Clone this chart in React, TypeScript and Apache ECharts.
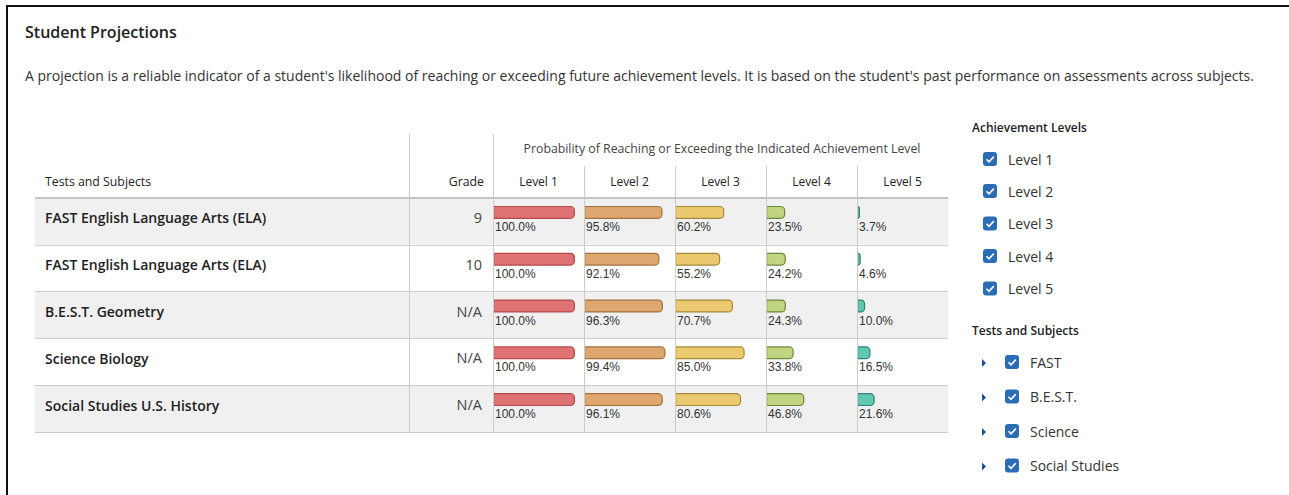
import React, { useEffect, useRef } from "react";
import * as echarts from "echarts";

const subjects = [
  "FAST English Language Arts (ELA)",
  "FAST English Language Arts (ELA)",
  "B.E.S.T. Geometry",
  "Science Biology",
  "Social Studies U.S. History",
];
const grades = ["9", "10", "N/A", "N/A", "N/A"];
const levelNames = ["Level 1", "Level 2", "Level 3", "Level 4", "Level 5"];
const level1 = [100.0, 100.0, 100.0, 100.0, 100.0];
const level2 = [95.8, 92.1, 96.3, 99.4, 96.1];
const level3 = [60.2, 55.2, 70.7, 85.0, 80.6];
const level4 = [23.5, 24.2, 24.3, 33.8, 46.8];
const level5 = [3.7, 4.6, 10.0, 16.5, 21.6];
const testGroups = ["FAST", "B.E.S.T.", "Science", "Social Studies"];

const levelData = [level1, level2, level3, level4, level5];
const fills = ["#df7272", "#dfa770", "#eac96f", "#c1d481", "#5fc7b2"];
const borders = ["#b54848", "#a2723f", "#a48a38", "#6c883a", "#2e8571"];

const FONT = "'Open Sans', Lato, sans-serif";
const colLefts = [493, 584, 675, 766, 857];
const COLW = 91;
const BARW = 82;
const TABLE_TOP = 198;
const TABLE_H = 234;

export default function App() {
  const ref = useRef<HTMLDivElement>(null);
  useEffect(() => {
    if (!ref.current) return;
    const chart = echarts.init(ref.current, null, { renderer: "svg" });

    const grids: any[] = [];
    const xAxes: any[] = [];
    const yAxes: any[] = [];
    const series: any[] = [];

    levelData.forEach((d, i) => {
      grids.push({ left: colLefts[i], top: TABLE_TOP - 9, width: BARW, height: TABLE_H });
      xAxes.push({ type: "value", gridIndex: i, min: 0, max: 100, show: false });
      yAxes.push({ type: "category", gridIndex: i, data: subjects, inverse: true, show: false });
      series.push({
        type: "bar",
        name: levelNames[i],
        xAxisIndex: i,
        yAxisIndex: i,
        data: d,
        barWidth: 13,
        z: 5,
        itemStyle: {
          color: fills[i],
          borderColor: borders[i],
          borderWidth: 1.2,
          borderRadius: [0, 4, 4, 0],
        },
        label: {
          show: true,
          position: [2, 15],
          formatter: (p: any) => Number(p.value).toFixed(1) + "%",
          fontFamily: "'Liberation Sans', Arial, sans-serif",
          fontSize: 12,
          color: "#333",
        },
      });
    });

    // table background grid (index 5)
    grids.push({ left: 35, top: TABLE_TOP, width: 913, height: TABLE_H });
    xAxes.push({ type: "value", gridIndex: 5, show: false, min: 0, max: 1 });
    yAxes.push({
      type: "category",
      gridIndex: 5,
      data: subjects,
      inverse: true,
      position: "left",
      axisLine: { show: false },
      axisTick: { show: false },
      axisLabel: { show: false },
      splitArea: { show: true, areaStyle: { color: ["#f0f0f0", "#ffffff"] } },
      splitLine: {
        show: true,
        interval: (idx: number) => idx > 0 && idx < subjects.length,
        lineStyle: { color: "#cccccc", width: 1 },
      },
    });
    // subject label grid (index 6), shifted up slightly
    grids.push({ left: 35, top: TABLE_TOP - 3.5, width: 458, height: TABLE_H });
    xAxes.push({ type: "value", gridIndex: 6, show: false, min: 0, max: 1 });
    yAxes.push({
      type: "category",
      gridIndex: 6,
      data: subjects,
      inverse: true,
      position: "left",
      axisLine: { show: false },
      axisTick: { show: false },
      splitLine: { show: false },
      axisLabel: {
        inside: true,
        margin: 10,
        interval: 0,
        fontFamily: FONT,
        fontSize: 14,
        fontWeight: 600,
        color: "#222",
      },
    });
    // grade grid (index 7)
    grids.push({ left: 35, top: TABLE_TOP - 4, width: 458, height: TABLE_H });
    xAxes.push({ type: "value", gridIndex: 7, show: false, min: 0, max: 1 });
    yAxes.push({
      type: "category",
      gridIndex: 7,
      data: subjects,
      inverse: true,
      position: "right",
      axisLine: { show: false },
      axisTick: { show: false },
      splitLine: { show: false },
      axisLabel: {
        inside: true,
        margin: 11,
        interval: 0,
        formatter: (_v: any, idx: number) => grades[idx],
        fontFamily: FONT,
        fontSize: 14.5,
        color: "#444",
      },
    });

    const txt = (x: number, y: number, text: string, o: any = {}) => ({
      type: "text",
      x,
      y,
      z: 10,
      style: {
        text,
        fill: o.fill || "#333",
        fontFamily: o.fontFamily || FONT,
        fontSize: o.fontSize || 12,
        fontWeight: o.fontWeight || "normal",
        align: o.align || "left",
        verticalAlign: "middle",
      },
    });
    const ln = (x1: number, y1: number, x2: number, y2: number, stroke: string, w = 1) => ({
      type: "line",
      z: 8,
      shape: { x1, y1, x2, y2 },
      style: { stroke, lineWidth: w },
    });

    const graphics: any[] = [];
    graphics.push(ln(6, 6, 1289, 6, "#111", 2));
    graphics.push(ln(7, 6, 7, 495, "#111", 2));
    graphics.push(txt(25, 32, "Student Projections", { fontSize: 16, fontWeight: 600, fill: "#222" }));
    graphics.push(
      txt(
        25,
        75,
        "A projection is a reliable indicator of a student's likelihood of reaching or exceeding future achievement levels. It is based on the student's past performance on assessments across subjects.",
        { fontSize: 14, fill: "#333" }
      )
    );
    graphics.push(txt(45, 181, "Tests and Subjects", { fontSize: 12.3, fill: "#222" }));
    graphics.push(txt(484, 181, "Grade", { fontSize: 12.3, fill: "#222", align: "right" }));
    graphics.push(
      txt(722, 148, "Probability of Reaching or Exceeding the Indicated Achievement Level", {
        fontSize: 12.3,
        fill: "#444",
        align: "center",
      })
    );
    levelNames.forEach((n, i) => {
      graphics.push(txt(colLefts[i] + COLW / 2, 181, n, { fontSize: 12, fill: "#222", align: "center" }));
    });
    graphics.push(ln(409.5, 134, 409.5, 432, "#cccccc", 1));
    graphics.push(ln(493.5, 134, 493.5, 432, "#cccccc", 1));
    colLefts.slice(1).forEach((x) => graphics.push(ln(x + 0.5, 166, x + 0.5, 432, "#cccccc", 1)));
    graphics.push(ln(35, 198, 948, 198, "#c4c4c4", 2));

    graphics.push(txt(972, 127, "Achievement Levels", { fontSize: 12, fontWeight: 600, fill: "#222" }));
    const checkbox = (x: number, y: number) => [
      {
        type: "rect",
        z: 10,
        shape: { x, y, width: 14, height: 14, r: 3 },
        style: { fill: "#2b6cb6" },
      },
      {
        type: "polyline",
        z: 11,
        shape: { points: [[x + 3.5, y + 7.2], [x + 6, y + 9.8], [x + 10.8, y + 4.6]] },
        style: { stroke: "#ffffff", lineWidth: 1.6, fill: null },
      },
    ];
    const levelYs = [159, 191, 223.5, 256, 288.5];
    levelNames.forEach((n, i) => {
      graphics.push(...checkbox(983, levelYs[i] - 7));
      graphics.push(txt(1008, levelYs[i], n, { fontSize: 14, fill: "#333" }));
    });
    graphics.push(txt(972, 330, "Tests and Subjects", { fontSize: 12, fontWeight: 600, fill: "#222" }));
    const testYs = [362, 396.5, 431, 465.5];
    testGroups.forEach((n, i) => {
      const y = testYs[i] + 1;
      graphics.push({
        type: "polygon",
        z: 10,
        shape: { points: [[982, y - 4], [986, y], [982, y + 4]] },
        style: { fill: "#1d4f8f" },
      });
      graphics.push(...checkbox(1005, testYs[i] - 7));
      graphics.push(txt(1030, testYs[i], n, { fontSize: 14, fill: "#333" }));
    });

    chart.setOption({
      animation: false,
      backgroundColor: "#ffffff",
      grid: grids,
      xAxis: xAxes,
      yAxis: yAxes,
      series,
      graphic: graphics,
    });
    return () => chart.dispose();
  }, []);

  return (
    <div
      ref={ref}
      style={{ position: "fixed", left: 0, top: 0, width: 1289, height: 495 }}
    />
  );
}
